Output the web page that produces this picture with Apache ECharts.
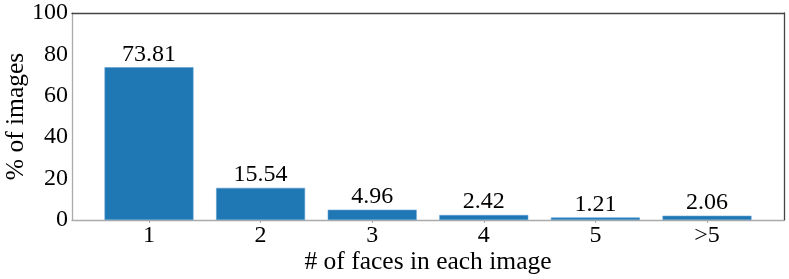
<!DOCTYPE html>
<html><head><meta charset="utf-8">
<script src="https://cdn.jsdelivr.net/npm/echarts@6/dist/echarts.min.js"></script>
<style>html,body{margin:0;padding:0;background:#fff}#c{width:789px;height:279px}</style>
</head><body><div id="c"></div>
<script>
const categories = ['1', '2', '3', '4', '5', '>5'];
const values = [73.81, 15.54, 4.96, 2.42, 1.21, 2.06];
const yTicks = [0, 20, 40, 60, 80, 100];
const xTitle = '# of faces in each image';
const yTitle = '% of images';

const font = 'Liberation Serif';
const fs = 24;
const fsTitle = 25.5;
const positions = categories.map((c, i) => i);
const chart = echarts.init(document.getElementById('c'), null, {renderer: 'canvas'});
chart.setOption({
  animation: false,
  grid: {left: 72, right: 5, top: 13, bottom: 59, containLabel: false, outerBoundsMode: 'none'},
  xAxis: [{
    type: 'value', position: 'bottom', min: -0.69, max: categories.length - 1 + 0.69,
    axisLine: {show: true, onZero: false, lineStyle: {color: '#aaaaaa', width: 1.3}},
    axisTick: {show: true, customValues: positions, length: 3, lineStyle: {color: '#aaaaaa'}},
    axisLabel: {customValues: positions, formatter: v => categories[Math.round(v)] || '', fontFamily: font, fontSize: fs, color: '#000', margin: 4},
    splitLine: {show: false},
    name: xTitle, nameLocation: 'middle', nameGap: 29, nameMoveOverlap: false,
    nameTextStyle: {fontFamily: font, fontSize: fsTitle, color: '#000'}
  }, {
    type: 'value', position: 'top', min: -0.69, max: categories.length - 1 + 0.69,
    axisLine: {show: true, onZero: false, lineStyle: {color: '#444444', width: 1.3}},
    axisTick: {show: false}, axisLabel: {show: false}, splitLine: {show: false}
  }],
  yAxis: [{
    type: 'value', position: 'left', min: 0, max: 100, interval: 20,
    axisLine: {show: true, onZero: false, lineStyle: {color: '#aaaaaa', width: 1.3}},
    axisTick: {show: false},
    axisLabel: {fontFamily: font, fontSize: fs, color: '#000', margin: 4,
      formatter: v => yTicks.includes(v) ? String(v) : ''},
    splitLine: {show: false},
    name: yTitle, nameLocation: 'middle', nameGap: 43, nameMoveOverlap: false,
    nameTextStyle: {fontFamily: font, fontSize: fsTitle, color: '#000'}
  }, {
    type: 'value', position: 'right', min: 0, max: 100,
    axisLine: {show: true, onZero: false, lineStyle: {color: '#444444', width: 1.3}},
    axisTick: {show: false}, axisLabel: {show: false}, splitLine: {show: false}
  }],
  series: [{
    type: 'bar', xAxisIndex: 0, yAxisIndex: 0,
    data: values.map((v, i) => [positions[i], v]),
    barWidth: 89,
    itemStyle: {color: '#1f77b4', borderColor: '#5f9fd0', borderWidth: 0.6},
    label: {show: true, position: 'top', distance: 1, fontFamily: font, fontSize: fs, color: '#000',
      formatter: p => p.value[1].toFixed(2)}
  }]
});
</script></body></html>
